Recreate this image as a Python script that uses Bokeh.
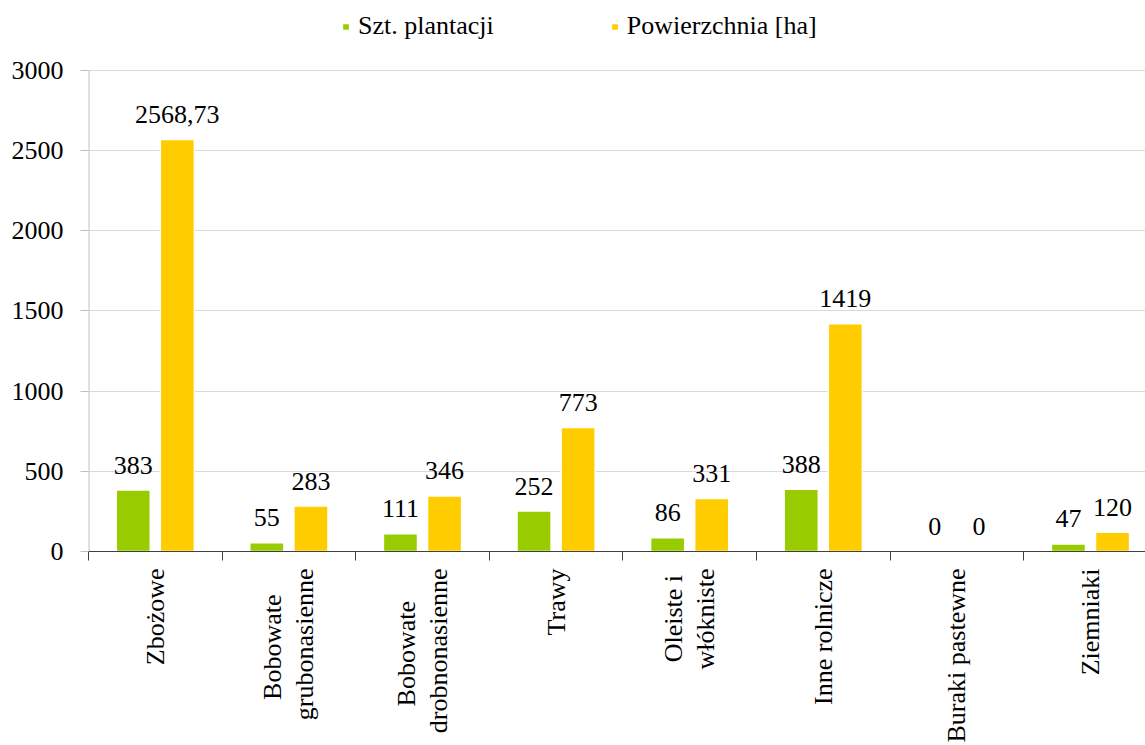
import math
from bokeh.plotting import figure
from bokeh.models import (Range1d, FixedTicker, Legend, LegendItem, ColumnDataSource)
from bokeh.core.properties import value
from bokeh.embed import file_html
from bokeh.resources import INLINE

NB = "\u00a0"
categories = ["Zbożowe", "Bobowate" + NB * 4 + "\ngrubonasienne",
              "Bobowate" + NB * 5 + "\ndrobnonasienne", "Trawy",
              "Oleiste i" + NB + "\nwłókniste", "Inne rolnicze", "Buraki pastewne", "Ziemniaki"]
szt_plantacji = [383, 55, 111, 252, 86, 388, 0, 47]
powierzchnia = [2568.73, 283, 346, 773, 331, 1419, 0, 120]
y_ticks = [0, 500, 1000, 1500, 2000, 2500, 3000]
y_max = 3000

GREEN = "#99CC00"
YELLOW = "#FFCC00"
FONT = "Liberation Serif"
FS = "26px"


def fmt(v):
    if float(v).is_integer():
        return str(int(v))
    return f"{v:.2f}".replace(".", ",")


n = len(categories)
centers = [i + 0.5 for i in range(n)]
off = 0.165
bw = 0.255

src_g = ColumnDataSource(dict(x=[c - off for c in centers], top=szt_plantacji,
                              lbl=[fmt(v) for v in szt_plantacji]))
src_y = ColumnDataSource(dict(x=[c + off for c in centers], top=powierzchnia,
                              lbl=[fmt(v) for v in powierzchnia]))

frame_w = 1145 - 88
frame_bottom = 553
plot_top = 70
cat_w = 133.6
y_end = y_max * frame_bottom / (frame_bottom - plot_top)

p = figure(width=1145, height=745, output_backend="svg", toolbar_location=None,
           x_range=Range1d(0, frame_w / cat_w), y_range=Range1d(0, y_end),
           min_border_left=88, min_border_right=0, min_border_top=0, min_border_bottom=0)
p.outline_line_color = None
p.background_fill_color = "white"
p.border_fill_color = "white"

# y axis line drawn only up to the top tick
p.segment(x0=[0], y0=[0], x1=[0], y1=[y_max], line_color="#bfbfbf", line_width=2)

r1 = p.vbar(x="x", top="top", width=bw, source=src_g, fill_color=GREEN,
            line_color="white", line_width=1.5)
r2 = p.vbar(x="x", top="top", width=bw, source=src_y, fill_color=YELLOW,
            line_color="white", line_width=1.5)

for src in (src_g, src_y):
    p.text(x="x", y="top", text="lbl", source=src, text_align="center",
           text_baseline="alphabetic", y_offset=-25, text_font=value(FONT),
           text_font_size=FS, text_color="black")

p.xgrid.visible = False
p.ygrid.ticker = FixedTicker(ticks=y_ticks)
p.ygrid.grid_line_color = "#d9d9d9"
p.ygrid.grid_line_width = 1

ya = p.yaxis[0]
ya.ticker = FixedTicker(ticks=y_ticks)
ya.axis_line_color = None
ya.major_tick_line_color = "#bfbfbf"
ya.major_tick_out = 8
ya.major_tick_in = 0
ya.minor_tick_out = 0
ya.minor_tick_in = 0
ya.major_label_standoff = 17
ya.major_label_text_font = FONT
ya.major_label_text_font_size = FS
ya.major_label_text_color = "black"

xa = p.xaxis[0]
xa.ticker = FixedTicker(ticks=centers, minor_ticks=list(range(n + 1)))
xa.major_label_overrides = {c: lab for c, lab in zip(centers, categories)}
xa.major_label_orientation = math.pi / 2
xa.axis_line_color = "#404040"
xa.major_tick_out = 0
xa.major_tick_in = 0
xa.minor_tick_out = 9
xa.minor_tick_in = 0
xa.minor_tick_line_color = "#404040"
xa.major_label_standoff = 8
xa.major_label_text_font = FONT
xa.major_label_text_font_size = FS
xa.major_label_text_line_height = 1.1
xa.major_label_text_color = "black"

legend = Legend(items=[LegendItem(label="Szt. plantacji", renderers=[r1]),
                       LegendItem(label="Powierzchnia [ha]", renderers=[r2])],
                orientation="horizontal", location=(253, frame_bottom - 43),
                border_line_color=None, background_fill_alpha=0,
                glyph_width=9, glyph_height=9, label_standoff=8, spacing=116,
                padding=0, margin=0, label_text_font=FONT, label_text_font_size=FS,
                label_text_color="black")
p.add_layout(legend)

open("out.html", "w").write(file_html(p, INLINE))
